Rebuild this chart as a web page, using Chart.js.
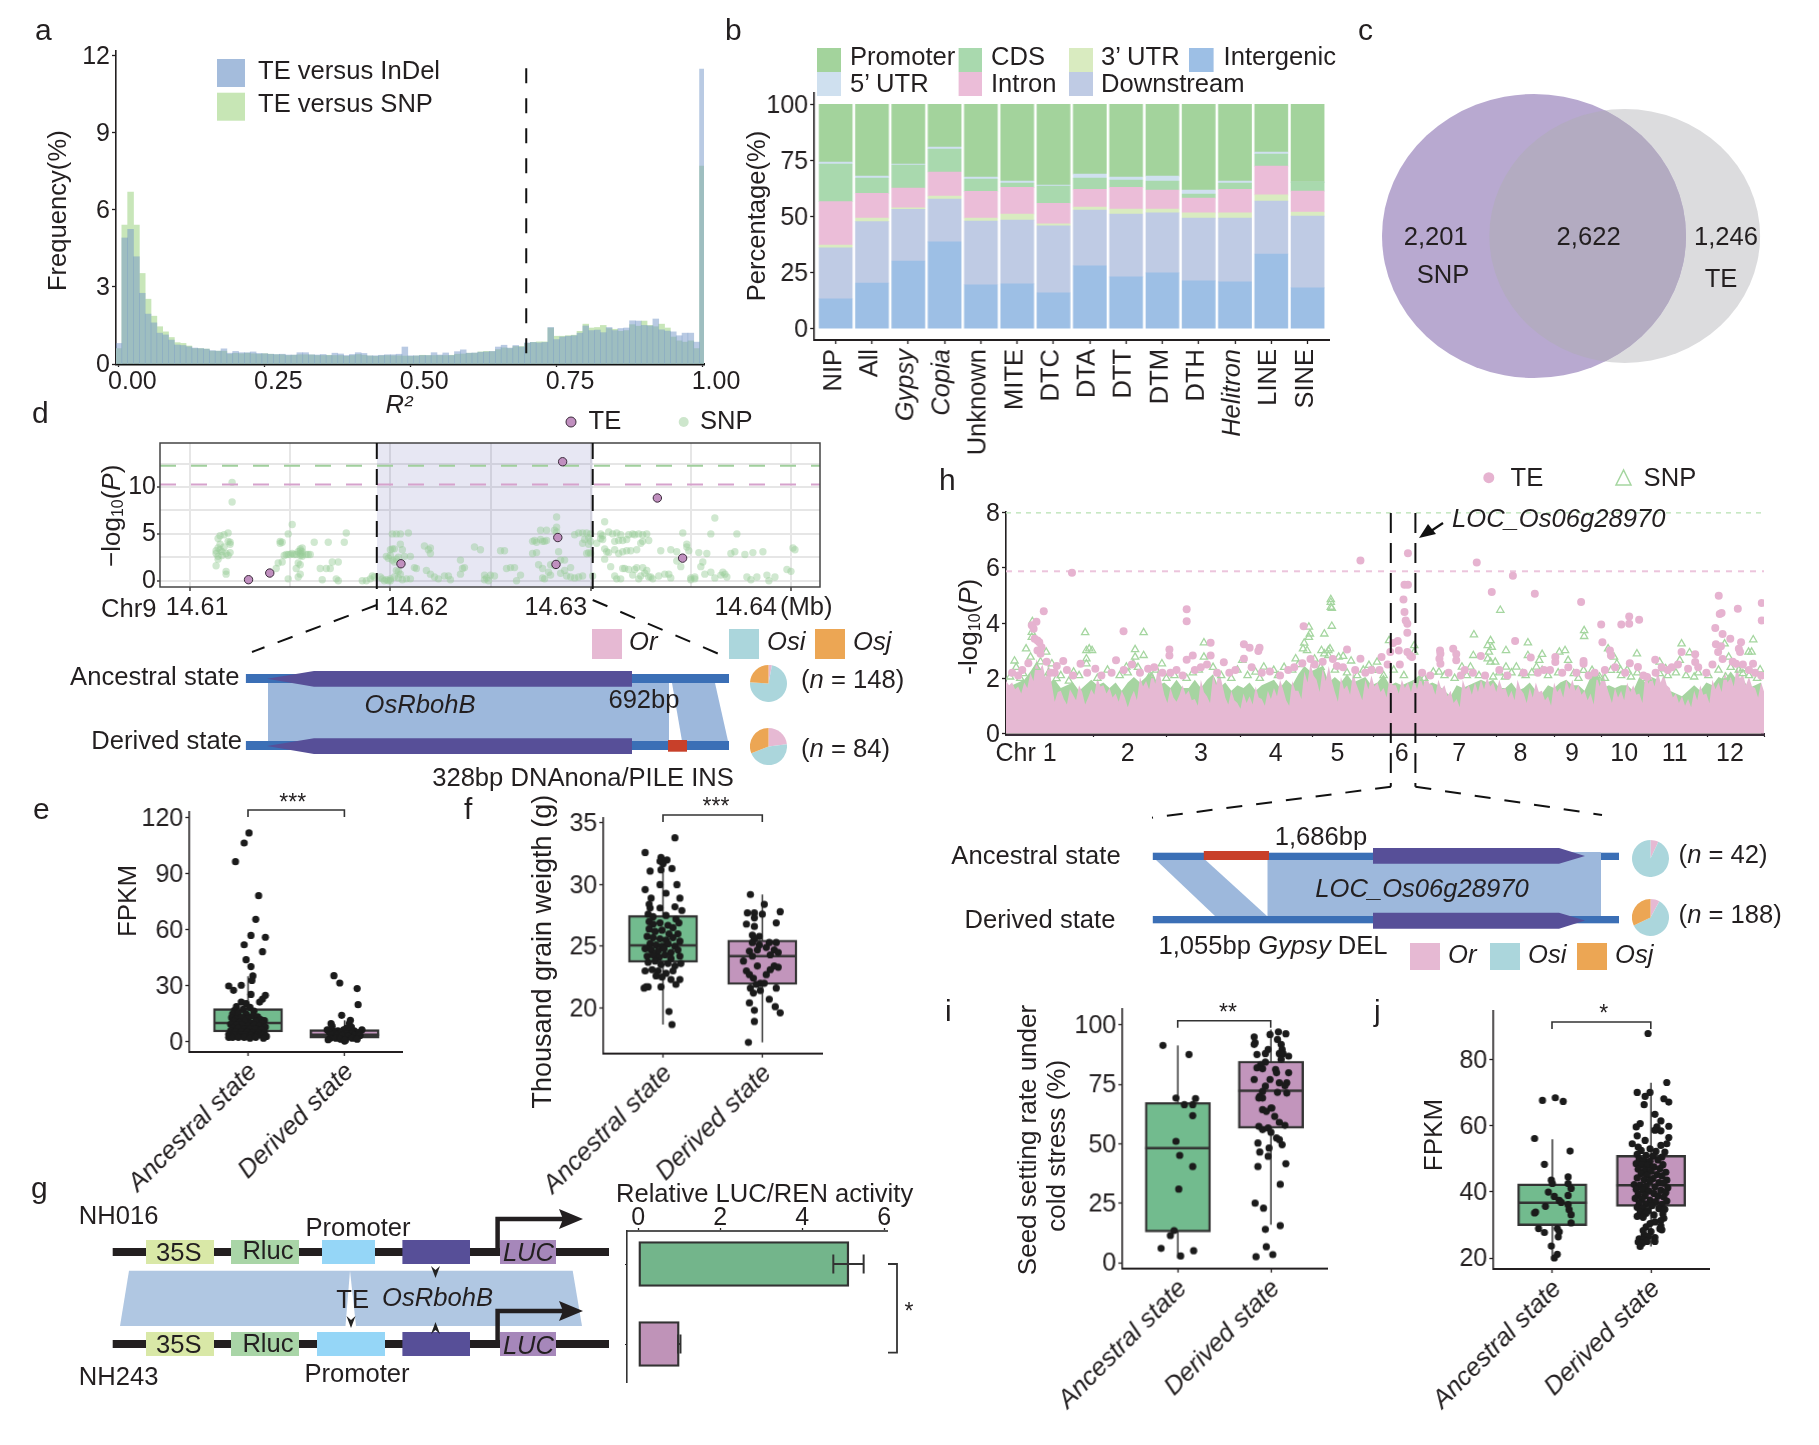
<!DOCTYPE html>
<html><head><meta charset="utf-8"><title>TE panels</title>
<script src="https://cdn.jsdelivr.net/npm/chart.js@4/dist/chart.umd.js"></script>
<style>
html,body{margin:0;padding:0;background:#fff;width:1819px;height:1445px;overflow:hidden}
#stage{position:relative;width:1819px;height:1445px}
canvas{position:absolute}
svg{position:absolute;left:0;top:0;pointer-events:none}
</style></head><body><div id="stage"></div>
<script>
// ---------- panel a ----------
const aInDel=[.8,4.9,5.24,4.17,2.75,1.94,1.6,1.2,1.13,.93,.74,.72,.67,.62,.6,.58,.52,.5,.59,.42,.49,.44,.44,.47,.41,.4,.38,.37,.38,.35,.35,.44,.44,.36,.35,.37,.33,.42,.39,.33,.37,.44,.41,.32,.32,.34,.36,.36,.38,.66,.32,.32,.33,.33,.44,.35,.43,.33,.48,.55,.42,.43,.46,.47,.49,.66,.73,.62,.72,.66,.82,.84,.82,.84,1.42,.95,1.05,1.08,1.1,1.2,1.48,1.3,1.32,1.22,1.42,1.3,1.38,1.4,1.68,1.67,1.5,1.48,1.75,1.33,1.28,1.25,1.1,1.2,1.2,.85,11.47];
const aSNP=[.6,5.4,6.68,5.4,3.52,2.52,1.86,1.45,1.25,1.03,.83,.8,.7,.6,.6,.58,.5,.5,.5,.38,.42,.4,.42,.4,.38,.4,.38,.36,.36,.33,.34,.36,.36,.35,.33,.33,.34,.33,.33,.3,.33,.37,.34,.31,.3,.32,.33,.32,.32,.31,.3,.31,.34,.33,.33,.33,.33,.34,.38,.39,.42,.42,.47,.49,.48,.56,.63,.6,.68,.68,.8,.84,.86,.86,1.4,1.08,1.08,1.1,1.12,1.27,1.55,1.4,1.42,1.5,1.38,1.35,1.27,1.3,1.53,1.47,1.67,1.5,1.45,1.55,1.4,1.05,.9,.85,.9,.6,7.7];
const aCut=0.698;
// ---------- panel b ----------
const bLabels=['NIP','All','Gypsy','Copia','Unknown','MITE','DTC','DTA','DTT','DTM','DTH','Helitron','LINE','SINE'];
const bItalic=['Gypsy','Copia','Helitron'];
const Intergenic=[13.3,20.4,30.2,38.7,19.6,20,16,28,23.1,24.9,21.3,20.9,33.3,18.2];
const Downstream=[22.8,27.3,23,19.1,28.4,28.4,29.8,24.9,28,26.7,28,28.4,23.6,32];
const UTR3=[1.2,1.6,.7,1.3,1.3,2.7,.9,1.3,2.2,1.7,2.3,2.3,2.7,1.8];
const Intron=[19.3,11,8.8,10.7,11.9,11.9,9.2,7.9,9.7,8.5,6.6,10.5,12.8,9.3];
const CDS=[16.7,6.8,10.2,10.2,5.5,1.9,7.7,5,3.2,4,1.8,2.8,5.4,4];
const UTR5=[.9,.9,.4,.9,.9,.9,.4,1.8,1.4,2.2,1.8,.9,.9,0];
const Promoter=[25.8,32,26.7,19.1,32.4,34.2,36,31.1,32.4,32,38.2,34.2,21.3,34.7];
// ---------- panel d ----------
const dTE=[[14.61292,.11],[14.61398,.82],[14.62053,1.81],[14.62827,1.74],[14.62836,4.61],[14.6286,12.7],[14.63333,8.83],[14.63459,2.41]];
const dThreshSNP=12.27, dThreshTE=10.27;
const dRegion=[14.61933,14.6301];
// SNP: x as offset from 14.61 Mb in units of 0.0001 Mb, y as -log10(P)
const dSNP=[[13,2.9],[13,3.2],[14,3.5],[15,3.9],[14,4.5],[15,4.8],[17,4.9],[19,5.1],[20,4.1],[20,3.9],[19,4.2],[14,2.6],[13,1.6],[14,2.3],[16,3.1],[18,2.9],[19,2.7],[20,3],[18,.7],[18,1],[21,10.5],[21,8.4],[15,3.3],[17,3.6],[16,2.7],
[45,4.2],[45,4],[46,4.1],[43,1.3],[44,1.9],[46,2],[47,2.7],[48,2.8],[49,2.8],[50,2.8],[51,2.9],[52,2.8],[53,2.8],[54,3.1],[55,3.4],[55,3.2],[55,2.9],[55,2.7],[56,3.5],[56,3.1],[56,2.8],[56,2.6],[58,2.8],[59,2.8],[60,2.8],[54,1.9],[55,1.7],[49,5],[51,6],[53,1.3],[55,.7],[54,.4],[49,.2],[65,1.3],[66,.1],[62,4.1],[69,4.1],[77,4.1],[78,5.1],[68,1.3],[70,1.3],[71,2],[74,2],[73,.2],[74,0],[88,0],[86,0],[90,.2],[91,.5],[92,.4],
[95,.4],[96,.2],[97,0],[98,.1],[99,0],[100,3.3],[101,3.4],[102,3.4],[98,2.6],[99,2.4],[100,2.7],[101,2.2],[102,2],[103,2.3],[104,2.5],[105,1.9],[103,1.1],[104,1],[105,.7],[100,0],[100,.2],[102,.4],[104,.3],[106,.1],[108,.2],[110,.2],[101,5],[103,5],[105,5],[109,5.1],[106,3.3],[105,3.9],[107,2.6],[110,2.6],[112,1.4],[113,1.3],[118,1.1],[120,.7],[122,.4],[124,.2],[117,3.7],[119,3.3],[120,3.5],[120,2.9],[127,.5],[129,.5],[130,.1],[135,.7],[135,2.2],[136,1.3],[137,1.4],
[142,3.6],[145,3.3],[147,.6],[148,.3],[147,.1],[149,0],[150,.6],[152,.5],[155,3.2],[157,3.2],[158,1.3],[160,1.4],[162,1.4],[165,.6],[163,0],
[171,4.2],[172,4.3],[173,4.1],[175,4.4],[176,4.2],[177,4.2],[178,4.3],[178,5.4],[175,5.4],[182,5.4],[183,5.2],[183,6.8],[183,5.7],[171,2.9],[173,3],[174,1.7],[176,1.3],[180,1.7],[182,1.6],[184,3.1],[185,2.2],[187,2.2],[188,.5],[190,.4],[192,.3],[194,.4],[196,.5],[198,2.9],[199,3],[200,2.9],[185,.8],[187,1.1],[180,.6],[179,.9],[177,.2],[176,.3],[190,1.4],[192,4.9],[194,5.1],[196,5.1],[198,5.1],[200,5],[199,4.6],[197,4.4],[196,4],[200,4.2],[199,3.9],[201,.5],
[205,5],[206,4.8],[205,4.5],[206,4.4],[203,4],[207,3.4],[208,3.1],[209,3],[207,6.3],[209,5.2],[211,5],[213,5.1],[215,4.9],[212,4.2],[214,4.3],[216,4.3],[218,4.4],[219,4.9],[221,5],[222,4.9],[224,5],[226,4.9],[228,5],[229,4.3],[226,4.2],[225,4],[223,3.3],[220,3.2],[218,3.2],[216,3.1],[212,3.3],[214,2.9],[207,2.3],[210,1.5],[212,.5],[213,.2],[215,.2],[216,1.3],[217,1.3],[219,1.2],[221,.6],[222,1.2],[223,1.4],[224,.2],[225,.5],[226,1.4],[227,.8],[228,1.1],[229,.4],[230,.4],[231,.2],[234,.5],[235,3.2],[237,.7],[239,.7],[240,.3],[240,3.3],[243,3.1],[246,5.1],[248,3.9],[249,3.2],[245,1.5],[243,2.1],[250,.3],[252,.4],[250,.1],[248,3.6],
[252,.2],[254,3],[255,1.5],[256,2],[257,.7],[258,2.9],[260,.9],[262,.3],[262,6.7],[260,5],[265,.6],[266,.9],[267,.7],[268,.4],[272,3.1],[270,2.9],[273,5],[277,2.8],[278,.4],[280,.1],[281,3],[283,.4],[286,3.1],[288,.6],[289,0],[292,.4],[300,1],[301,3.5],[302,3.3],[298,1.2]];
const dTickVals=[14.61,14.615,14.62,14.625,14.63,14.635,14.64];
const dLabelVals=[14.61035,14.62132,14.62826,14.63774];
const dLabelText=['14.61','14.62','14.63','14.64'];
// ---------- pies ----------
const pieNames=['Or','Osi','Osj'];
const pieD1=[3,73,24], pieD2=[23,46,31], pieH1=[7,93,0], pieH2=[8,60,32];
// ---------- box plots: [q1, median, q3, low whisker, high whisker] ----------
const boxCats=['Ancestral state','Derived state'];
const eBox=[[5.4,10.2,17.9,2,35.2],[2.1,3.9,6.6,.5,11.6]];
const fBox=[[23.7,25.08,27.5,18.65,31.2],[21.9,24.2,25.5,17.2,29.2]];
const iBox=[[12.9,48.2,67.3,1.8,91.3],[56.5,72.3,84.7,15.9,98]];
const jBox=[[29.8,36.7,42.4,19.8,55.9],[35.6,42,51,23.5,72.9]];
const ePts=[[1.01,112],[.96,106.6],[.87,96.6],[1.11,78.4],[1.08,65.7],[1.03,57.1],[1.18,56.1],[.96,52.1],[1.15,48.4],[.98,44.1],[1.03,40.4],[1.05,35.4],[1.04,33],[.8,30],[.93,30.4],[.85,27.7],[1.03,25.5],[1.18,25],[1.15,23],[1.12,21.4],[.93,21.4],[.98,20.5],[.88,19],[1.02,18.5],[.86,17],[.95,17.5],[1.06,16.5],[.84,15],[.9,15.5],[.98,15],[1.05,14],[1.1,13.5],[.83,13],[.88,12.5],[.93,13],[1,12.5],[1.13,12],[1.17,11.5],[.85,11],[.91,10.5],[.97,11],[1.03,10],[1.08,11],[1.15,10],[.82,9.5],[.88,9],[.94,9],[1,8.5],[1.06,9],[1.12,8.5],[1.18,8],[.84,7.5],[.9,7.5],[.96,7],[1.02,7],[1.08,7],[1.14,6.5],[.82,6],[.87,5.5],[.93,5.5],[.99,5.5],[1.05,5],[1.11,5],[1.17,5],[.8,4],[.86,4],[.92,4],[.97,4],[1.03,3.5],[1.09,3.5],[1.15,3.5],[1.19,3],[.8,2.5],[.84,2.5],[.9,2.5],[.96,2.5],[1.02,2],[1.08,2.5],[1.16,2],
[1.89,35.5],[1.95,31.6],[2.13,28.6],[2.14,20],[1.97,14.3],[2.06,11.6],[2.05,10],[1.86,9.8],[1.87,8.5],[2.07,8],[2.02,7.5],[1.82,6.5],[1.87,6.5],[1.93,6],[1.99,6.5],[2.05,6],[2.1,6],[2.18,6.5],[1.84,5.5],[1.9,4.5],[1.96,5],[2.02,4.5],[2.08,4.5],[2.15,5],[1.86,4],[1.92,3.5],[1.98,3.5],[2.04,3],[2.11,3.5],[2.16,3.5],[1.85,2],[1.91,2],[1.96,1.5],[2,.5],[2.01,1],[2.08,2],[2.13,1.5],[1.83,1.2]];
const fPts=[[1.12,33.8],[.82,32.6],[.98,32.2],[1.04,32],[.97,31.9],[1,31.7],[.87,31.1],[.98,31.2],[1.09,31.3],[1.14,30],[.97,30],[.82,29.6],[1.03,29.3],[1.17,28.9],[.88,28.9],[.86,28.4],[.97,28.1],[1.12,28.2],[1.19,27.9],[.87,28.1],[.85,27.6],[.9,27.4],[1.03,27.5],[1.13,27.2],[.86,27],[.9,26.8],[.97,26.9],[1.05,26.7],[1.16,26.9],[1.1,26.5],[.86,26.4],[.92,26.2],[.99,26.3],[1.06,26],[1.15,26],[.84,25.8],[.9,25.7],[.97,25.6],[1.03,25.5],[1.1,25.7],[1.17,25.4],[.87,25.2],[.93,25.1],[.99,25],[1.05,25.2],[1.12,25],[.82,24.8],[.88,24.7],[.95,24.6],[1.01,24.8],[1.08,24.5],[1.15,24.7],[.84,24.2],[.9,24.3],[.96,24.1],[1.02,24.3],[1.08,24],[1.17,24.2],[.85,23.7],[.92,23.8],[.98,23.5],[1.05,23.6],[1.12,23.4],[1.18,23.6],[.89,23.1],[.95,23],[1.03,22.8],[1.1,23],[.82,23],[.93,22.6],[1.08,22.3],[1.17,22.3],[1.13,21.9],[.99,22.5],[.85,21.7],[.81,21.6],[.83,21.7],[.98,21.7],[1.06,19.7],[1.09,18.65],
[1.88,29.2],[2.02,28.4],[1.85,27.7],[1.92,27.7],[2,27.6],[2.18,27.8],[1.92,27.3],[2.14,26.9],[1.84,26.8],[1.92,26.6],[1.9,25.9],[1.97,25.8],[1.92,25.6],[2.07,25.3],[2.14,25.3],[1.97,25.1],[1.9,25.3],[2.04,24.9],[2.12,24.7],[1.87,24.6],[1.95,24.7],[2.16,24.5],[2.08,24.3],[1.9,24.2],[1.81,23.8],[2.12,23.4],[1.95,23.4],[2.16,23.3],[2.08,23.1],[1.84,23],[2.04,22.7],[1.87,22.7],[1.91,22.4],[1.98,22],[2.02,22],[1.94,21.9],[1.88,21.6],[2.14,21.6],[1.98,21.4],[1.91,21.2],[2.07,20.7],[1.87,20.4],[2.13,20.1],[2.18,19.6],[1.92,19.8],[1.92,18.9],[1.86,17.2]];
const iPts=[[.84,91.3],[1.12,87.5],[.98,69.2],[1.19,69],[1.07,66.4],[1.16,66.4],[1.16,61.8],[.98,51],[1.02,45.1],[1.16,40.4],[1.01,30.9],[.96,13.5],[.92,11.4],[.82,6],[1.17,5],[1.03,2.8],
[1.82,94.9],[1.83,92.4],[1.82,91.7],[1.99,95.9],[2.08,97],[2.16,96.2],[2.07,93.8],[2.11,91.7],[2.12,89.6],[1.97,89.6],[1.85,87.5],[1.94,87.9],[2.09,87.9],[2.13,87.9],[2.19,86.8],[2.11,85.4],[1.94,84.3],[1.89,83.3],[1.85,81.9],[1.91,81.5],[2.05,81.2],[2.06,79.8],[2.19,79.8],[1.82,77],[1.99,77],[2.09,75.6],[2.17,75.6],[2.15,74.4],[1.94,74.2],[1.91,72],[2.07,71.6],[2.17,71.3],[1.88,69.9],[1.91,69.2],[1.87,69.2],[2,65],[1.91,64.3],[1.95,63.6],[2.01,65],[2.04,61.5],[2.09,59],[2.15,57.7],[1.87,57.3],[1.91,55.9],[1.97,56.6],[2,54.8],[2.06,52.4],[2.09,51.7],[1.86,50.3],[2.12,49.6],[1.98,48.2],[1.88,46.5],[1.97,44.7],[1.86,40.4],[2.16,41.6],[2.1,32.9],[1.83,25],[1.92,22.9],[2.1,15.6],[1.94,14],[1.95,6.7],[2.02,3.4],[1.84,2.5]];
const jPts=[[.9,67.6],[1.03,68.4],[1.11,67.3],[.82,56.1],[1.18,52.3],[.92,48.3],[1.16,44.5],[.99,43.5],[1,42.5],[1.16,42.5],[1.19,41],[.96,39.9],[1.02,38.6],[1.16,38.9],[1.07,37.4],[.93,35.6],[.83,33.9],[.82,33.6],[1.09,36.8],[1.16,36.1],[1.17,34.6],[1.19,33.1],[1.19,30.6],[.86,28.9],[.92,27.7],[1.05,28.9],[1.07,27.9],[1.06,26.4],[.99,23.6],[1.05,21.1],[1.02,20],
[1.97,87.8],[2.16,73],[1.86,70],[1.99,70],[1.94,68.8],[2.13,68.1],[2.18,67.1],[1.93,66.3],[2.04,63.4],[2.1,61.4],[1.89,60.6],[1.85,59.6],[2.06,59.6],[2.18,59.8],[2.1,58.4],[2.04,58.6],[1.86,56.9],[2.18,56.4],[1.94,55.5],[1.81,54.5],[2.16,54.5],[2.1,54],[1.87,53.5],[1.99,53],[1.9,52.5],[2.05,52.2],[2.14,52],[1.86,51.3],[1.95,51],[2.02,50.8],[2.11,50.5],[1.88,49.8],[1.93,49.5],[1.99,49.2],[2.07,49.6],[1.85,48.5],[1.91,48.2],[1.97,48],[2.12,48.2],[2.03,47.5],[2.09,47],[1.87,46.8],[1.94,46.5],[2,46.2],[2.15,45.9],[1.9,45.5],[1.96,45],[2.06,45.2],[2.11,44.8],[1.86,44.2],[2.02,44],[1.93,43.7],[2.16,43.5],[1.99,43.2],[2.08,42.8],[2.13,42.6],[1.83,42.2],[1.89,42],[1.95,41.7],[2.04,41.5],[2.17,41.2],[1.85,40.8],[1.92,40.5],[1.98,40.2],[2.1,40.4],[2.15,39.8],[2.03,39.5],[1.87,39.2],[1.94,38.9],[2.07,38.7],[2.13,38.4],[1.84,38],[1.91,37.8],[1.99,37.5],[2.16,37.2],[2.05,37],[1.88,36.6],[1.95,36.3],[2.11,36.2],[2.01,35.8],[1.86,35.3],[1.92,35],[2.08,34.9],[2.14,34.7],[1.97,34.3],[1.89,33.8],[1.95,33.5],[2.12,33.3],[2.03,33],[1.86,32.6],[1.92,32.3],[2.13,32],[2.1,31.3],[2.04,30.9],[1.99,30.4],[2.1,29.7],[1.95,29.4],[2.09,28.8],[1.92,28.3],[2,28],[2.11,28.5],[1.93,27],[1.97,26.5],[2.04,26.2],[1.88,25.8],[1.93,25.5],[1.96,25],[2.04,25],[1.87,24.8],[1.91,24.4],[1.89,23.5]];
// ---------- panel g ----------
const gActivity=[5.14,1], gErrLow=[4.76,.97], gErrHigh=[5.5,1.03];
// ---------- panel h ----------
const chrEnds=[0,43,79,115.4,150.9,180.9,212.1,241.8,270.2,293.2,316.4,345.4,373.4];
const chrNames=['Chr 1','2','3','4','5','6','7','8','9','10','11','12'];
const chrLabelPos=[9.9,59.9,96,132.8,163.3,194.9,223.2,253.4,278.8,304.5,329.4,356.6];
const hPinkStep=1.5, hGreenStep=3;
const hPinkTop=[1.9,1.75,1.85,1.6,1.7,1.45,1.85,1.65,2.2,1.9,2.7,2.3,2.5,2.0,2.6,1.8,1.15,1.5,1.55,1.25,1.05,1.6,1.4,1.2,1.75,1.5,1.05,1.3,1.6,1.4,2.0,1.7,1.75,1.45,1.65,1.3,1.45,1.15,1.55,1.3,.95,1.3,1.55,1.2,2.05,1.7,1.9,1.6,2.2,1.8,2.45,1.9,1.4,1.1,1.65,1.3,1.15,1.4,1.75,1.4,1.55,1.2,1.25,1.0,1.95,1.5,1.35,1.1,2.1,1.75,2.25,1.8,1.3,1.05,1.55,1.2,1.1,.9,1.45,1.1,1.35,1.05,1.7,1.3,1.25,1.0,1.55,1.25,1.65,1.35,1.95,1.6,1.2,1.0,1.9,1.55,1.55,1.25,2.25,1.85,2.55,2.1,1.95,1.5,2.35,1.9,2.45,1.9,1.5,1.15,2.05,1.6,1.75,1.4,2.25,1.8,1.5,1.2,1.95,1.6,2.1,1.7,1.85,1.5,1.65,1.3,2.1,1.75,1.75,1.45,1.95,1.65,1.85,1.5,1.95,1.6,2.05,1.7,2.15,1.8,1.75,1.4,1.95,1.6,1.75,1.35,1.55,1.1,1.25,.95,1.95,1.6,1.75,1.4,1.85,1.5,1.95,1.6,2.05,1.7,1.85,1.5,1.95,1.6,1.65,1.3,1.55,1.2,1.95,1.6,1.45,1.1,1.65,1.3,1.85,1.5,1.55,1.2,1.35,1.0,1.85,1.5,1.65,1.3,1.95,1.6,1.95,1.55,1.75,1.4,1.55,1.2,1.45,1.05,2.05,1.7,2.25,1.8,1.45,1.1,1.65,1.3,1.55,1.2,1.85,1.5,1.75,1.4,1.45,1.1,2.15,1.8,2.05,1.7,2.25,1.85,2.15,1.75,1.65,1.3,1.45,1.1,1.35,1.0,1.25,.95,1.55,1.2,1.75,1.4,1.45,1.1,1.95,1.6,1.85,1.5,2.25,1.85,2.05,1.7,2.45,2.0,2.15,1.75,2.05,1.7,1.65,1.3,1.85,1.5,1.95];
const hGreenTop=[1.65,1.75,1.85,1.95,2.25,2.55,2.25,1.85,1.95,1.65,1.75,1.85,1.55,1.75,1.95,1.75,1.85,1.65,1.85,1.55,1.85,2.05,1.85,2.05,2.25,1.75,1.85,1.65,1.95,1.65,1.65,1.95,1.65,1.95,2.15,1.65,1.85,1.55,1.75,1.65,1.85,1.55,1.75,1.85,1.95,1.65,1.95,1.75,2.15,2.45,2.25,2.35,2.45,1.85,2.05,1.85,2.15,1.85,1.95,2.05,1.75,1.85,2.15,1.75,1.85,1.75,1.85,1.95,2.15,1.75,1.85,1.75,1.55,1.35,1.75,1.65,1.75,1.85,1.95,1.85,1.95,1.65,1.65,1.85,1.55,1.65,1.85,1.55,1.45,1.75,1.65,1.85,1.95,1.75,1.75,1.55,2.05,2.25,1.65,1.75,1.65,1.75,1.75,1.55,2.05,1.85,2.05,1.95,1.65,1.55,1.45,1.35,1.55,1.75,1.55,1.85,1.75,2.05,1.95,2.25,1.95,1.95,1.65,1.75,1.85];
const hTE=[[32.5,5.83],[174.6,6.27],[198,6.53],[231.9,6.2],[249.7,5.72],[196.3,5.39],[198,5.39],[195.8,4.86],[196.3,4.4],[196.9,4.1],[197.7,3.98],[197.7,3.65],[239.3,5.13],[260.5,5.07],[283.3,4.77],[351.1,4.99],[360.5,4.52],[372.3,4.73],[372.3,4.1],[352.5,4.37],[351.6,4.33],[293.2,3.95],[303.1,3.95],[307,4.24],[307,3.98],[311.9,4.12],[18.6,4.43],[89,4.5],[89,4.07],[57.9,3.71],[146.6,3.89],[15,4.05],[12.7,3.92],[13.6,3.8],[14.1,3.43],[15.5,3.37],[16.4,3.31],[17.5,3.13],[15.5,3.01],[17,2.89],[100.8,3.29],[117.2,3.23],[120,3.11],[124.9,3.11],[124.3,2.99],[250.8,3.35],[293.8,3.31],[349.4,3.82],[353,3.61],[356.8,3.43],[362.1,3.31],[349.7,3.23],[352.2,3.16],[350.8,2.95],[361,3.07],[361.6,2.95],[368,2.53],[359.6,2.53],[80.5,3.04],[100.8,2.83],[89,2.67],[92,2.83],[80.5,2.83],[54.2,2.65],[28.2,2.63],[36.7,2.53],[107.3,2.58],[117.2,2.71],[168,3.04],[174.6,2.71],[185,2.77],[189.3,2.95],[190.7,3.28],[193,3.35],[193.5,3.01],[197.7,2.95],[199.1,2.83],[200,2.77],[213.8,3.01],[214,2.89],[213.5,2.71],[214,2.53],[220.3,3.07],[221.8,2.88],[221.8,2.65],[233.9,2.81],[258.5,2.75],[270.6,2.77],[270.6,2.59],[284.5,2.53],[284.5,2.63],[297.5,3.01],[298,2.83],[307.3,2.55],[311.3,2.41],[315.8,2.05],[319.8,2.67],[339.5,2.87],[339.5,2.59],[332.8,2.95],[8,2.3],[22,2.2],[25,2.45],[30,2.3],[44,2.35],[62,2.5],[70,2.35],[77,2.2],[84,2.3],[96,2.4],[110,2.2],[130,2.25],[142,2.4],[152,2.5],[163,2.45],[180,2.3],[205,2.2],[226,2.3],[243,2.3],[265,2.3],[277,2.4],[290,2.2],[323,2.4],[328,2.4],[336,2.35],[345,2.2],[366,2.3],
[3,2.2],[6,2.1],[11,2.55],[20,2.6],[24,2.2],[33,2.1],[40,2.2],[47,2.1],[52,2.2],[58,2.3],[66,2.2],[73,2.4],[81,2.2],[87,2.1],[93,2.3],[99,2.5],[104,2.2],[113,2.3],[121,2.4],[126,2.2],[135,2.1],[139,2.3],[146,2.55],[150,2.7],[156,2.6],[161,2.7],[166,2.4],[172,2.3],[177,2.2],[184,2.3],[188,2.5],[194,2.5],[209,2.1],[218,2.2],[224,2.1],[230,2.2],[236,2.1],[247,2.1],[255,2.2],[262,2.2],[268,2.3],[274,2.2],[281,2.2],[287,2.1],[295,2.3],[300,2.4],[305,2.2],[314,2.1],[320,2.2],[326,2.3],[331,2.5],[341,2.4],[348,2.5],[353,2.7],[358,2.6],[363,2.5],[369,2.2],[372,2.1]];
const hSNP=[[160,4.86],[160,4.76],[160,4.58],[160.5,4.54],[243.5,4.47],[160.5,3.89],[149.2,3.86],[149.7,3.61],[149.2,3.49],[156.8,3.61],[146.9,3.28],[39,3.66],[67.8,3.66],[13,4.06],[12.7,3.67],[12.7,3.49],[9.9,3.07],[12.1,2.77],[19.8,2.95],[4.2,2.63],[2,2.05],[8.5,2.17],[22.6,2.53],[33.3,2.23],[24.9,1.99],[39.6,3.01],[41,3.07],[42.4,3.01],[39.6,2.71],[39.6,2.53],[63.6,3.04],[63.6,2.77],[62.7,2.53],[67.8,2.83],[59.3,2.41],[76.8,2.53],[97.5,3.29],[97.5,2.77],[116.4,2.65],[127,2.41],[122.9,2.23],[131.9,2.29],[142.7,2.71],[146.3,3.07],[148.3,3.01],[155.4,3.01],[156.8,2.89],[158.8,3.01],[159.6,3.07],[158.8,2.83],[163.9,2.77],[166.1,2.8],[170,2.63],[178.8,2.47],[180.8,2.29],[182.8,2.59],[188.7,3.37],[201.1,3.19],[201.1,2.95],[230.5,3.58],[230.2,2.83],[237.3,3.19],[238.7,3.37],[239.3,3.13],[237.9,2.95],[237.3,2.71],[238.7,2.59],[241,2.59],[246.3,3.01],[257.1,3.29],[246.3,2.41],[251.4,2.41],[257.1,2.83],[264.1,2.87],[262.7,2.65],[261.3,2.41],[272.6,2.95],[275.4,3.01],[276.9,2.65],[284.8,3.73],[284.8,3.52],[284.5,2.29],[288.7,2.29],[296.6,3.07],[310.8,2.89],[298,2.29],[300.9,2.53],[332.8,3.25],[331.9,2.65],[336.7,2.93],[354,3.25],[365.8,2.95],[367.3,2.95],[368.1,3.4],[363,2.35],[371.5,2.31],[356,2.77],[322,2.59],[324.9,2.35],[339,2.05],[299.5,2.77],[302.8,2.29],[224.6,2.41],[228.8,2.41],[210.5,2.23],[213.3,2.23],[240,2.05],[245.8,2.05],[254.3,2.17],[264.1,2.29],[279.7,2.17],[292.4,2.05],[307.9,2.05],[322,2.17],[354.5,2.05],[363,2.17],
[5,2.4],[7,2],[15,2.4],[17,2.6],[21,2.2],[27,2.1],[31,1.9],[36,2.1],[45,2],[50,2.3],[56,2.1],[60,2.2],[65,2.4],[71,2.1],[74,2.3],[79,2],[83,2.1],[89,2],[92,2.2],[95,2.3],[102,2.4],[106,2.1],[111,2],[114,2.3],[119,2.1],[125,2],[134,2.1],[137,2.4],[141,2.3],[144,2.5],[152,2.7],[155,2.4],[162,2.3],[168,2.2],[173,2.1],[176,2.3],[186,2.1],[191,2.3],[196,2.1],[206,2],[216,2.1],[221,2],[227,2.1],[233,2.1],[243,2.2],[249,2.2],[256,2.1],[259,2.2],[267,2.1],[272,2.2],[282,2],[291,2.1],[295,2],[303,2.1],[306,2.3],[311,2.2],[316,2],[326,2.1],[330,2.2],[335,2.1],[341,2.2],[346,2.1],[351,2.3],[357,2.4],[361,2.3],[366,2.1],[370,2]];
const hThreshSNP=8, hThreshTE=5.88;

// ================= drawing =================
const INK='#231f20', FF='"Liberation Sans", Arial, sans-serif';
const GREEN='#72bb8e', PURPLE='#c295bc';
Chart.defaults.font.family=FF; Chart.defaults.font.size=25; Chart.defaults.color=INK;
Chart.defaults.animation=false; Chart.defaults.responsive=false;
Chart.defaults.plugins.legend.display=false; Chart.defaults.plugins.tooltip.enabled=false;
const stage=document.getElementById('stage');
const at=vals=>s=>{s.ticks=vals.map(v=>({value:v}));};
const zero=s=>{s.paddingLeft=s.paddingRight=s.paddingTop=s.paddingBottom=0;};
const fitW=w=>s=>{s.width=w;zero(s);};
const fitH=h=>s=>{s.height=h;zero(s);};
const pairs=a=>a.map(p=>({x:p[0],y:p[1]}));
function mk(p,cfg,m={}){
  const ml=m.left??110,mr=m.right??14,mt=m.top??14,mb=m.bottom??60;
  const c=document.createElement('canvas');
  const W=p.r-p.l+ml+mr,H=p.b-p.t+mt+mb;
  c.width=W;c.height=H;
  c.style.left=(p.l-ml)+'px';c.style.top=(p.t-mt)+'px';c.style.width=W+'px';c.style.height=H+'px';
  stage.appendChild(c);
  cfg.options=cfg.options||{};
  cfg.options.layout={autoPadding:false,padding:{left:0,right:mr,top:m.axisTop?0:mt,bottom:m.axisTop?mb:0}};
  return new Chart(c,cfg);
}
function yAxis(min,max,vals,extra={}){return Object.assign({type:'linear',min,max,afterBuildTicks:at(vals),afterFit:fitW(110),
  grid:{drawOnChartArea:false,tickLength:4,tickColor:INK,tickWidth:1.3},border:{color:INK,width:1.6},
  ticks:{padding:2,labelOffset:1.5,autoSkip:false,callback:v=>String(v)}},extra);}
function boxChart(p,xr,yr,yT,box,pts,bw,px){
  const [b1,b2]=box;
  const mid=(b,x)=>({type:'line',data:[{x:x-bw/2,y:b[1]},{x:x+bw/2,y:b[1]}],borderColor:'#333',borderWidth:2.5,pointRadius:0});
  const wh=(b,x)=>({type:'line',data:[{x,y:b[3]},{x,y:b[4]}],borderColor:'#333',borderWidth:1.5,pointRadius:0});
  return mk(p,{type:'bar',data:{datasets:[
    {type:'scatter',data:pairs(pts),backgroundColor:'#1b1b1b',borderWidth:0,pointRadius:3.6},
    mid(b1,1),mid(b2,2),
    {type:'bar',data:[{x:1,y:[b1[0],b1[2]]},{x:2,y:[b2[0],b2[2]]}],backgroundColor:[GREEN,PURPLE],borderColor:'#333',borderWidth:2.4,borderSkipped:false,barThickness:bw*px},
    wh(b1,1),wh(b2,2)
  ]},options:{scales:{
    x:{type:'linear',min:xr[0],max:xr[1],offset:false,afterBuildTicks:at([1,2]),afterFit:fitH(190),
      grid:{offset:false,drawOnChartArea:false,tickLength:4,tickColor:INK,tickWidth:1.3},border:{color:INK,width:2},
      ticks:{autoSkip:false,minRotation:45,maxRotation:45,padding:1,labelOffset:5,font:{style:'italic',size:25.6},callback:v=>boxCats[v-1]}},
    y:yAxis(yr[0],yr[1],yT)
  }}},{bottom:190});
}
// panel a
mk({l:116,t:50.7,r:704,b:364},{type:'bar',data:{datasets:[
  {type:'line',data:[{x:aCut,y:11.5},{x:aCut,y:0}],borderColor:'#111',borderWidth:2,borderDash:[15,15],pointRadius:0},
  {label:'TE versus InDel',data:aInDel.map((v,i)=>({x:i/100,y:v})),backgroundColor:'rgba(115,150,200,.5)',grouped:false,barThickness:5.85,borderWidth:0},
  {label:'TE versus SNP',data:aSNP.map((v,i)=>({x:i/100,y:v})),backgroundColor:'rgb(200,230,185)',grouped:false,barThickness:5.85,borderWidth:0}
]},options:{scales:{
  x:{type:'linear',min:-.005,max:1.0026,offset:false,afterBuildTicks:at([0,.25,.5,.75,1]),afterFit:fitH(60),
     grid:{offset:false,drawOnChartArea:false,tickLength:3,tickColor:INK,tickWidth:1.3},border:{color:'#111',width:2.5},
     ticks:{autoSkip:false,padding:0,labelOffset:13.5,maxRotation:0,callback:v=>v.toFixed(2)}},
  y:yAxis(0,12.17,[0,3,6,9,12])
}}},{bottom:60,right:50});
// panel b
const bCols=['#9dbfe5','#bfcbe4','#d9ebc0','#ebbdd8','#a9d9ae','#cfe0ef','#a3d39c'];
const bSeries=[['Intergenic',Intergenic],['Downstream',Downstream],["3' UTR",UTR3],['Intron',Intron],['CDS',CDS],["5' UTR",UTR5],['Promoter',Promoter]];
mk({l:814,t:92.75,r:1328.6,b:340},{type:'bar',data:{datasets:bSeries.map((s,k)=>({label:s[0],data:s[1].map((v,i)=>({x:i+1,y:v})),backgroundColor:bCols[k],barThickness:33,borderWidth:0}))},
 options:{scales:{
  x:{type:'linear',stacked:true,offset:false,min:.407,max:14.59,afterBuildTicks:at(bLabels.map((_,i)=>i+1)),afterFit:fitH(130),
     grid:{offset:false,drawOnChartArea:false,tickLength:4,tickColor:INK,tickWidth:1.3},border:{color:INK,width:2},
     ticks:{autoSkip:false,minRotation:90,maxRotation:90,padding:5,labelOffset:-2,
       font:c=>({style:(c.tick&&bItalic.includes(bLabels[c.tick.value-1]))?'italic':'normal',size:25.5}),callback:v=>bLabels[v-1]}},
  y:yAxis(-5,105,[0,25,50,75,100],{stacked:true})
 }}},{bottom:130});
// panel d
const dPlugin={id:'dShade',
 beforeDatasetsDraw(c){const x=c.scales.x,a=c.chartArea,g=c.ctx;g.save();g.fillStyle='rgba(95,95,175,.15)';
   const l=x.getPixelForValue(dRegion[0]),r=x.getPixelForValue(dRegion[1]);g.fillRect(l,a.top,r-l,a.bottom-a.top);g.restore();},
 afterDraw(c){const a=c.chartArea,g=c.ctx;g.save();g.strokeStyle='#444';g.lineWidth=1.5;g.strokeRect(a.left,a.top,a.right-a.left,a.bottom-a.top);g.restore();}};
mk({l:159.6,t:442.7,r:820,b:587.3},{type:'scatter',plugins:[dPlugin],data:{datasets:[
 {data:pairs(dTE),backgroundColor:'#c08fbf',borderColor:'#3a2a3a',borderWidth:1,pointRadius:4.2},
 {type:'line',data:[{x:14.6085,y:dThreshSNP},{x:14.64145,y:dThreshSNP}],borderColor:'#a0cf9c',borderWidth:2,borderDash:[16,15],pointRadius:0},
 {type:'line',data:[{x:14.6085,y:dThreshTE},{x:14.64145,y:dThreshTE}],borderColor:'#d6a2cc',borderWidth:2,borderDash:[16,15],pointRadius:0},
 {data:dSNP.map(p=>({x:14.61+p[0]/1e4,y:p[1]})),backgroundColor:'rgba(150,205,150,.45)',borderWidth:0,pointRadius:3.7}
]},options:{scales:{
 x:{type:'linear',min:14.6085,max:14.64145,weight:0,afterBuildTicks:at(dTickVals),afterFit:fitH(6),
    grid:{color:'#e6e6e6',lineWidth:2,tickLength:4,tickColor:c=>(c.tick&&Math.round(c.tick.value*1000)%10===0)?INK:'rgba(0,0,0,0)',tickWidth:1.3},border:{display:false},
    ticks:{display:false,autoSkip:false}},
 xl:{axis:'x',type:'linear',position:'bottom',weight:1,min:14.6085,max:14.64145,afterBuildTicks:at(dLabelVals),afterFit:fitH(44),
    grid:{display:true,drawOnChartArea:false,drawTicks:false},border:{display:false},
    ticks:{autoSkip:false,padding:0,maxRotation:0,callback:(v,i)=>dLabelText[i]}},
 y:yAxis(-.67,14.7,[0,2.5,5,7.5,10,12.5],{grid:{color:'#e6e6e6',lineWidth:2,tickLength:3,tickColor:c=>(c.tick&&c.tick.value%5===0)?INK:'rgba(0,0,0,0)',tickWidth:1.3},border:{display:false},
    ticks:{padding:1,autoSkip:false,callback:v=>v%5===0?String(v):''}})
}}},{bottom:50});
// panels e f i j
boxChart({l:189.4,t:811.7,r:401.8,b:1051.7},[.392,2.595],[-5.36,123.2],[0,30,60,90,120],eBox,ePts,.715,96.4);
boxChart({l:603.3,t:818.3,r:822,b:1054},[.399,2.601],[16.29,35.4],[20,25,30,35],fBox,fPts,.695,99.3);
boxChart({l:1122,t:1009.3,r:1326.8,b:1268.7},[.404,2.602],[-2.5,106.6],[0,25,50,75,100],iBox,iPts,.7,93);
boxChart({l:1493.3,t:1010.7,r:1709,b:1268.7},[.402,2.588],[16.68,94.6],[20,40,60,80],jBox,jPts,.7,98.7);
// panel g
const errBar=(i,c)=>[
 {type:'line',data:[{x:gErrLow[i],y:c},{x:gErrHigh[i],y:c}],borderColor:'#333',borderWidth:2,pointRadius:0},
 {type:'line',data:[{x:gErrLow[i],y:c-.12},{x:gErrLow[i],y:c+.12}],borderColor:'#333',borderWidth:2,pointRadius:0},
 {type:'line',data:[{x:gErrHigh[i],y:c-.12},{x:gErrHigh[i],y:c+.12}],borderColor:'#333',borderWidth:2,pointRadius:0}];
mk({l:626.7,t:1231,r:886.7,b:1382},{type:'bar',data:{datasets:[
 ...errBar(0,1),...errBar(1,2),
 {type:'bar',indexAxis:'y',data:[{x:gActivity[0],y:1},{x:gActivity[1],y:2}],backgroundColor:['#73b58b','#bf93b8'],borderColor:'#333',borderWidth:2.4,borderSkipped:false,barThickness:45}
]},options:{scales:{
 x:{type:'linear',position:'top',offset:false,min:-.275,max:6.07,afterBuildTicks:at([0,2,4,6]),afterFit:fitH(36),
    grid:{offset:false,drawOnChartArea:false,tickLength:3,tickColor:INK,tickWidth:1.3},border:{color:'#555',width:2},
    ticks:{autoSkip:false,padding:-5,maxRotation:0,callback:v=>String(v)}},
 y:{type:'linear',offset:false,reverse:true,min:.5875,max:2.475,afterBuildTicks:at([1,2]),afterFit:fitW(20),
    grid:{offset:false,drawOnChartArea:false,tickLength:2,tickColor:INK},border:{color:'#333',width:1.6},ticks:{callback:()=>''}}
}}},{axisTop:true,top:36,left:20,bottom:10});
// panel h
const hDash=[{x:0,y:0},{x:373.4,y:0}];
mk({l:1006,t:512,r:1764,b:734},{type:'scatter',data:{datasets:[
 {data:pairs(hTE),backgroundColor:'#e6b3d0',borderWidth:0,pointRadius:4},
 {data:pairs(hSNP),pointStyle:'triangle',backgroundColor:'rgba(0,0,0,0)',borderColor:'#a5d6a0',borderWidth:1.3,pointRadius:4.2},
 {type:'line',data:hDash.map(d=>({x:d.x,y:hThreshSNP})),borderColor:'#c7e8c3',borderWidth:1.6,borderDash:[5,5],pointRadius:0},
 {type:'line',data:hDash.map(d=>({x:d.x,y:hThreshTE})),borderColor:'#ecc4dc',borderWidth:2,borderDash:[6,6],pointRadius:0},
 {type:'line',data:hPinkTop.map((v,i)=>({x:i*hPinkStep,y:v})),borderWidth:0,pointRadius:0,fill:'origin',backgroundColor:'#e6b9d3'},
 {type:'line',data:hGreenTop.map((v,i)=>({x:i*hGreenStep,y:v})),borderWidth:0,pointRadius:0,fill:'origin',backgroundColor:'#a6d4a1'}
]},options:{plugins:{filler:{propagate:false}},scales:{
 x:{type:'linear',min:0,max:373.4,weight:0,afterBuildTicks:at(chrEnds.slice(1)),afterFit:fitH(5),
    grid:{drawOnChartArea:false,tickLength:3,tickColor:INK,tickWidth:1.2},border:{color:'#3a2f3a',width:3},
    ticks:{display:false,autoSkip:false}},
 xl:{axis:'x',type:'linear',position:'bottom',weight:1,min:0,max:373.4,afterBuildTicks:at(chrLabelPos),afterFit:fitH(45),
    grid:{display:true,drawOnChartArea:false,drawTicks:false},border:{display:false},
    ticks:{autoSkip:false,padding:0,maxRotation:0,callback:(v,i)=>chrNames[i]}},
 y:yAxis(-.02,8.03,[0,2,4,6,8])
}}},{bottom:50});
// pies
function pie(cx,cy,r,vals){const c=document.createElement('canvas');const s=Math.round(2*r+2);c.width=s;c.height=s;
 c.style.left=(cx-s/2)+'px';c.style.top=(cy-s/2)+'px';c.style.width=s+'px';c.style.height=s+'px';stage.appendChild(c);
 new Chart(c,{type:'pie',data:{labels:pieNames,datasets:[{data:vals,backgroundColor:['#e6b9d3','#abd6dc','#eca654'],borderWidth:0}]},options:{layout:{padding:0}}});}
pie(768.8,683.8,17.3,pieD1);pie(768.8,746.3,17.3,pieD2);pie(1650,858.3,17.3,pieH1);pie(1650,917,17.3,pieH2);

// ================= annotations (diagrams and free text) =================
let S='';
const T=(x,y,t,o={})=>{S+=`<text x="${x}" y="${y}" font-size="${o.s||25.6}" text-anchor="${o.a||'start'}" ${o.i?'font-style="italic"':''} fill="${INK}">${t}</text>`;};
const R=(x1,y1,x2,y2,f)=>{S+=`<rect x="${x1}" y="${y1}" width="${x2-x1}" height="${y2-y1}" fill="${f}"/>`;};
const L=(x1,y1,x2,y2,o={})=>{S+=`<line x1="${x1}" y1="${y1}" x2="${x2}" y2="${y2}" stroke="${o.c||'#111'}" stroke-width="${o.w||2}" ${o.d?`stroke-dasharray="${o.d}"`:''}/>`;};
const P=(pts,f)=>{S+=`<polygon points="${pts}" fill="${f}"/>`;};
const V=(cx,cy,t,s=26)=>{S+=`<text transform="rotate(-90 ${cx} ${cy})" x="${cx}" y="${cy}" font-size="${s}" text-anchor="middle" dominant-baseline="central" fill="${INK}">${t}</text>`;};
const I=t=>`<tspan font-style="italic">${t}</tspan>`;
const LOGP=m=>`${m}log<tspan font-size="16" dy="6">10</tspan><tspan dy="-6">(</tspan>${I('P')})`;
[['a',35,40],['b',725,40],['c',1358,40],['d',32,423],['e',33,819],['f',464,819],['g',31,1198],['h',939,490],['i',945,1021],['j',1374,1021]].forEach(a=>T(a[1],a[2],a[0],{s:30}));
// axis titles
V(57,210.7,'Frequency(%)',25.6);V(755.7,216,'Percentage(%)',25.6);
T(399,413,'R²',{a:'middle',i:1});
V(111.5,515.8,LOGP('−'));V(967.6,626.7,LOGP('-'));
V(127.4,901,'FPKM');V(542.5,951.7,'Thousand grain weigth (g)',27);
V(1026.9,1140,'Seed setting rate under',26);V(1056,1145.8,'cold stress (%)',26);V(1433,1135,'FPKM');
// legend a
R(217,59,245,87,'#a4bcdc');R(217,92.7,245,120.7,'#c7e6b5');T(258,79,'TE versus InDel');T(258,111.7,'TE versus SNP');
// legend b
R(817,48,841,72,'#a3d39c');R(817,72,841,96,'#cfe0ef');R(958.6,48,982,72,'#a9d9ae');R(958.6,72,982,96,'#ebbdd8');R(1069,48,1093,72,'#d9ebc0');R(1069,72,1093,96,'#bfcbe4');R(1189,48,1213.6,72,'#9dbfe5');
T(850,65,'Promoter');T(850,92,'5’ UTR');T(991,65,'CDS');T(991,92,'Intron');T(1101,65,'3’ UTR');T(1101,92,'Downstream');T(1223.6,65,'Intergenic');
// venn c
S+=`<defs><clipPath id="vc"><ellipse cx="1534" cy="236" rx="152" ry="142"/></clipPath></defs>
<ellipse cx="1624.7" cy="236" rx="135.4" ry="127" fill="#dcdcde"/><ellipse cx="1534" cy="236" rx="152" ry="142" fill="#b8a9d0"/>
<ellipse cx="1624.7" cy="236" rx="135.4" ry="127" fill="#b3abc1" clip-path="url(#vc)"/>`;
T(1435.7,245,'2,201',{a:'middle'});T(1443,282.7,'SNP',{a:'middle'});T(1588.6,245,'2,622',{a:'middle'});T(1726,245,'1,246',{a:'middle'});T(1721,286.7,'TE',{a:'middle'});
// d annotations
S+=`<circle cx="571" cy="422" r="5" fill="#c08fbf" stroke="#3a2a3a"/><circle cx="683.7" cy="422" r="5" fill="#cde6cc"/>`;
T(588.6,429,'TE');T(700,429,'SNP');
T(101,616.7,'Chr9');T(780,615,'(Mb)');
L(376.8,443,376.8,610,{w:2,d:'16 10'});L(592.7,443,592.7,590,{w:2,d:'16 10'});
L(376.8,605,252,652,{w:2,d:'16 14'});L(592.7,600,719,654,{w:2,d:'16 14'});
R(592,629,622,659,'#e6b9d3');T(629,650,'Or',{i:1});R(729,629,759,659,'#abd6dc');T(767,650,'Osi',{i:1});R(815,629,845,659,'#eca654');T(853,650,'Osj',{i:1});
P('268,683 669,683 669,741 268,741','#9db8dc');P('672,683 715,683 728,741 682,741','#9db8dc');
R(245.9,674,729,683,'#3b6fb6');R(245.9,741,729,750,'#3b6fb6');
P('267,678.7 314,671 632,671 632,686.7 314,686.7','#574f98');P('267,746 314,738.3 632,738.3 632,754 314,754','#574f98');
R(668,740,687,751.7,'#c8402a');
T(239.4,685,'Ancestral state',{a:'end'});T(242,749,'Derived state',{a:'end'});
T(420,713,'OsRbohB',{a:'middle',i:1});T(644,708,'692bp',{a:'middle'});T(583,785.7,'328bp DNAnona/PILE INS',{a:'middle'});
T(801,688,`(${I('n')} = 148)`);T(801,756.7,`(${I('n')} = 84)`);
// brackets
const BR=(x1,x2,y,h,st,sx,sy)=>{S+=`<path d="M${x1} ${y+h}V${y}H${x2}V${y+h}" fill="none" stroke="#333" stroke-width="1.6"/>`;T(sx,sy,st,{a:'middle',s:23});};
BR(248,344.4,810,7,'***',292.8,810);BR(663,762.3,815,7,'***',716,813.5);BR(1177.7,1270.7,1020.7,7,'**',1228,1020);BR(1552,1650.8,1022,7,'*',1603.7,1021);
// panel g diagram
L(112.7,1252,609,1252,{c:INK,w:8});L(112.7,1344,609,1344,{c:INK,w:8});
[[1240,1264],[1332,1356]].forEach((r,k)=>{R(146,r[0],214,r[1],'#d9e8a7');R(231,r[0],299,r[1],'#a9d5a7');
 if(k==0)R(322,r[0],375,r[1],'#95d6f7');else R(317,r[0],385,r[1],'#95d6f7');R(402.4,r[0],470,r[1],'#574f98');R(500,r[0],556,r[1],'#a687ba');});
P('129,1270.7 572.7,1270.7 582,1326 120,1326','#b0c7e2');P('350,1270.7 345.5,1326 356,1326','#fff');
const ARW=(x,y,dir)=>{P(`${x-4.5},${y-dir*9} ${x},${y-dir*5} ${x+4.5},${y-dir*9} ${x},${y+dir*3}`,'#222');};
ARW(435.5,1275,1);ARW(435.5,1325,-1);ARW(351,1325,1);
const BENT=(y0,y1)=>{S+=`<path d="M497.6 ${y0}V${y1}H563" fill="none" stroke="${INK}" stroke-width="4.5"/>`;P(`559,${y1-10} 583,${y1} 559,${y1+10} 563,${y1}`,INK);};
BENT(1248,1219);BENT(1340,1311);
T(78.8,1224.3,'NH016');T(78.8,1385,'NH243');T(358,1235.7,'Promoter',{a:'middle'});T(357,1381.7,'Promoter',{a:'middle'});
T(178.8,1261,'35S',{a:'middle'});T(268,1259,'Rluc',{a:'middle'});T(528.5,1261,'LUC',{a:'middle',i:1});
T(178.8,1353.3,'35S',{a:'middle'});T(268,1352,'Rluc',{a:'middle'});T(528.5,1354,'LUC',{a:'middle',i:1});
T(352.7,1307.7,'TE',{a:'middle'});T(437.6,1306,'OsRbohB',{a:'middle',i:1});
T(764.6,1202,'Relative LUC/REN activity',{a:'middle'});
S+=`<path d="M888 1264H897V1352.7H888" fill="none" stroke="#333" stroke-width="1.8"/>`;T(909,1319,'*',{a:'middle',s:23});
// h annotations
S+=`<circle cx="1488.8" cy="477.7" r="5.5" fill="#e6b3d0"/><polygon points="1623.6,470 1631,485 1616,485" fill="none" stroke="#a5d6a0" stroke-width="1.5"/>`;
T(1510.6,486,'TE');T(1643.6,486,'SNP');
L(1390.8,513,1390.8,786.7,{w:2,d:'20 10'});L(1415.4,513,1415.4,786.7,{w:2,d:'20 10'});
L(1391,786.7,1152,817.7,{w:2,d:'16 14'});L(1415.4,786.7,1602,815,{w:2,d:'16 14'});
T(1452,527,'LOC_Os06g28970',{i:1});
L(1443,523,1428,533,{w:2.2});P('1419,538 1428,524 1436,534','#111');
R(1152.8,852.7,1619,860,'#3b6fb6');
P('1156,860 1205.5,860 1267,916 1215,916','#9db8dc');P('1267.5,860 1373,860 1373,852 1601,852 1601,916 1267.5,916','#9db8dc');
R(1152.8,916,1619,923.3,'#3b6fb6');R(1203.8,851,1269,860,'#c8402a');
P('1373,848 1559,848 1585,856 1559,863.7 1373,863.7','#574f98');P('1373,912.7 1559,912.7 1585,920.5 1559,928.7 1373,928.7','#574f98');
T(1036,864.3,'Ancestral state',{a:'middle'});T(1040,928.3,'Derived state',{a:'middle'});
T(1321,845,'1,686bp',{a:'middle'});T(1422,896.7,'LOC_Os06g28970',{a:'middle',i:1});
T(1158.5,954,`1,055bp ${I('Gypsy')} DEL`);
R(1410,943,1440,970,'#e6b9d3');T(1448,963,'Or',{i:1});R(1490,943,1520,970,'#abd6dc');T(1528,963,'Osi',{i:1});R(1577,943,1607,970,'#eca654');T(1615,963,'Osj',{i:1});
T(1678.6,863,`(${I('n')} = 42)`);T(1678.6,922.7,`(${I('n')} = 188)`);
const svg=document.createElementNS('http://www.w3.org/2000/svg','svg');
svg.setAttribute('width',1819);svg.setAttribute('height',1445);svg.setAttribute('font-family',FF);
svg.innerHTML=S;stage.appendChild(svg);
</script></body></html>
